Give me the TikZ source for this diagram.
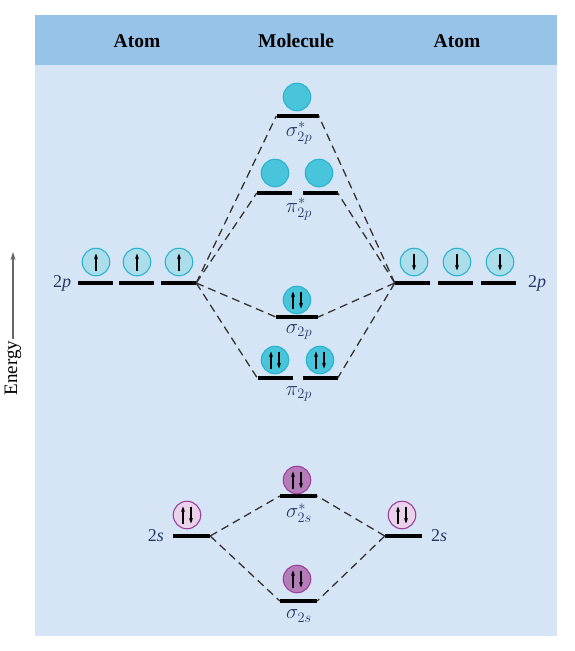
\documentclass[tikz,border=0pt]{standalone}
\usepackage{fontspec}
\setmainfont{Liberation Serif}
\usetikzlibrary{arrows.meta}

\definecolor{panelbg}{HTML}{D5E5F5}
\definecolor{headbg}{HTML}{98C3E8}
\definecolor{cyanfill}{HTML}{48C4DB}
\definecolor{cyanline}{HTML}{2BB3CE}
\definecolor{palecyan}{HTML}{ACDDEB}
\definecolor{purpfill}{HTML}{B47DB9}
\definecolor{purpline}{HTML}{9A3F9C}
\definecolor{pinkfill}{HTML}{EAD3EA}
\definecolor{navy}{HTML}{2A3566}

% electrons drawn in an orbital circle
\newcommand{\spinup}[2][0pt]{\draw[spin] ([xshift=#1,yshift=-8.5pt]#2.center) -- ([xshift=#1,yshift=8.5pt]#2.center);}
\newcommand{\spindown}[2][0pt]{\draw[spin] ([xshift=#1,yshift=8.5pt]#2.center) -- ([xshift=#1,yshift=-8.5pt]#2.center);}
\newcommand{\spinpair}[1]{\spinup[-4pt]{#1}\spindown[4pt]{#1}}

\begin{document}
\begin{tikzpicture}[
    x=1pt, y=-1pt, font=\fontsize{19}{22}\selectfont,
    head/.style={font=\fontsize{19.5}{22}\selectfont\bfseries},
    lvl/.style={fill=black, inner sep=0pt, minimum height=4pt, minimum width=35pt},
    widelvl/.style={lvl, minimum width=42pt},
    orb/.style={circle, inner sep=0pt, minimum size=27.5pt, line width=1.1pt},
    pAtom/.style={orb, draw=cyanline, fill=palecyan},
    pMol/.style={orb, draw=cyanline, fill=cyanfill},
    sAtom/.style={orb, draw=purpline, fill=pinkfill},
    sMol/.style={orb, draw=purpline, fill=purpfill},
    spin/.style={-{Stealth[length=5.5pt, width=4pt]}, line width=1.1pt},
    mix/.style={dash pattern=on 8pt off 5pt, line width=1.3pt, draw=black!80},
    tag/.style={text=navy, font=\fontsize{18}{20}\selectfont},
    mtag/.style={text=navy, font=\fontsize{20.5}{22}\selectfont},
  ]
  \useasboundingbox (0,0) rectangle (574,651);

  % panel and header
  \fill[panelbg] (35,15) rectangle (557,636);
  \fill[headbg] (35,15) rectangle (557,65);
  \node[head] (hAtomL) at (137,41) {Atom};
  \node[head] (hMol) at (296,41) {Molecule};
  \node[head] (hAtomR) at (457,41) {Atom};

  % energy axis
  \node[rotate=90, inner sep=2pt] (energy) at (13,368) {Energy};
  \coordinate (etop) at (13,252);
  \draw[->, >={Stealth[length=8pt, width=5pt]}, line width=1.4pt, draw=black!60] (energy) -- (etop);

  % left atom 2p
  \node[tag] (lab2pL) at (62,283) {2\textit{p}};
  \node[lvl] (p2L1) at (95,283) {};
  \node[lvl] (p2L2) at (136.5,283) {};
  \node[lvl] (p2L3) at (178.5,283) {};
  \node[pAtom] (e2pL1) at (96,262) {};
  \node[pAtom] (e2pL2) at (137,262) {};
  \node[pAtom] (e2pL3) at (179,262) {};
  \spinup{e2pL1} \spinup{e2pL2} \spinup{e2pL3}

  % right atom 2p
  \node[lvl] (p2R1) at (412.5,283) {};
  \node[lvl] (p2R2) at (455.5,283) {};
  \node[lvl] (p2R3) at (498.5,283) {};
  \node[tag] (lab2pR) at (537,283) {2\textit{p}};
  \node[pAtom] (e2pR1) at (414,262) {};
  \node[pAtom] (e2pR2) at (457,262) {};
  \node[pAtom] (e2pR3) at (500,262) {};
  \spindown{e2pR1} \spindown{e2pR2} \spindown{e2pR3}

  % molecule 2p
  \node[widelvl] (sig2pS) at (297.5,116) {};
  \node[pMol] (eSig2pS) at (297,97) {};
  \node[mtag] (labSig2pS) at (299,133) {$\sigma^{*}_{2p}$};

  \node[lvl] (pi2pSa) at (274.5,193) {};
  \node[lvl] (pi2pSb) at (320,193) {};
  \node[pMol] (ePi2pSa) at (275,173) {};
  \node[pMol] (ePi2pSb) at (319,173) {};
  \node[mtag] (labPi2pS) at (299,209) {$\pi^{*}_{2p}$};

  \node[widelvl] (sig2p) at (297,317) {};
  \node[pMol] (eSig2p) at (297,300) {};
  \spinpair{eSig2p}
  \node[mtag] (labSig2p) at (299,332) {$\sigma_{2p}$};

  \node[lvl] (pi2pa) at (275,378) {};
  \node[lvl] (pi2pb) at (320,378) {};
  \node[pMol] (ePi2pa) at (275,360) {};
  \node[pMol] (ePi2pb) at (320,360) {};
  \spinpair{ePi2pa} \spinpair{ePi2pb}
  \node[mtag] (labPi2p) at (299,394) {$\pi_{2p}$};

  \draw[mix] (p2L3.east) -- (sig2pS.west);
  \draw[mix] (p2L3.east) -- (pi2pSa.west);
  \draw[mix] (p2L3.east) -- (sig2p.west);
  \draw[mix] (p2L3.east) -- (pi2pa.west);
  \draw[mix] (p2R1.west) -- (sig2pS.east);
  \draw[mix] (p2R1.west) -- (pi2pSb.east);
  \draw[mix] (p2R1.west) -- (sig2p.east);
  \draw[mix] (p2R1.west) -- (pi2pb.east);

  % 2s levels
  \node[tag] (lab2sL) at (156,536) {2\textit{s}};
  \node[lvl, minimum width=37pt] (s2L) at (191.5,536) {};
  \node[sAtom] (e2sL) at (187,515) {};
  \spinpair{e2sL}

  \node[lvl, minimum width=37pt] (s2R) at (403.5,536) {};
  \node[sAtom] (e2sR) at (402,515) {};
  \spinpair{e2sR}
  \node[tag] (lab2sR) at (439,536) {2\textit{s}};

  \node[lvl, minimum width=37pt] (sig2sS) at (298.5,496) {};
  \node[sMol] (eSig2sS) at (297,480) {};
  \spinpair{eSig2sS}
  \node[mtag] (labSig2sS) at (299,513) {$\sigma^{*}_{2s}$};

  \node[lvl, minimum width=37pt] (sig2s) at (298.5,601) {};
  \node[sMol] (eSig2s) at (297,579) {};
  \spinpair{eSig2s}
  \node[mtag] (labSig2s) at (299,616) {$\sigma_{2s}$};

  \draw[mix] (s2L.east) -- (sig2sS.west);
  \draw[mix] (s2L.east) -- (sig2s.west);
  \draw[mix] (s2R.west) -- (sig2sS.east);
  \draw[mix] (s2R.west) -- (sig2s.east);

\end{tikzpicture}
\end{document}
